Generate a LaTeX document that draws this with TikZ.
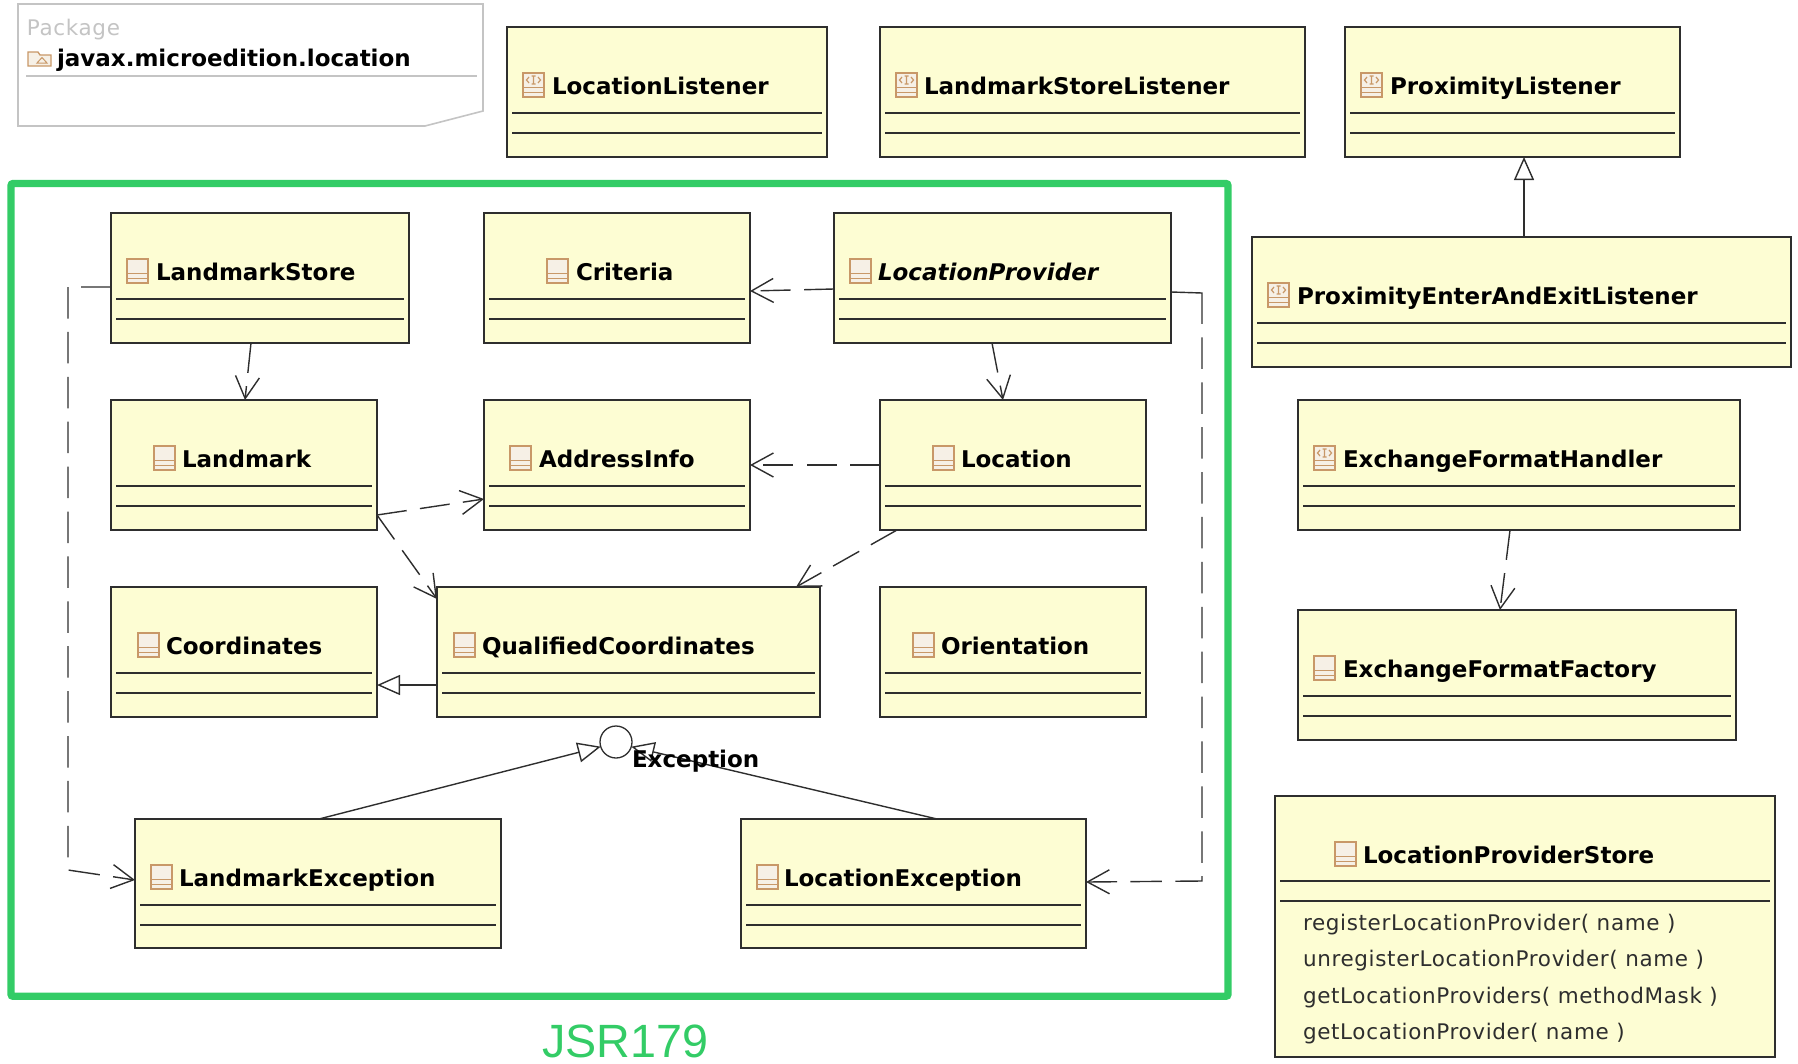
\documentclass[tikz,border=0pt]{standalone}
\usepackage{fontspec}
\setmainfont{DejaVu Sans}
\newfontfamily\arialf{Liberation Sans}
\newfontfamily\mthf[LetterSpace=3]{DejaVu Sans}
\usetikzlibrary{arrows.meta,calc}
\definecolor{boxfill}{HTML}{FDFDD3}
\definecolor{ink}{HTML}{2E2E2E}
\definecolor{jsr}{HTML}{33CC66}
\definecolor{icn}{HTML}{C89868}
\definecolor{icnfill}{HTML}{F6F0E6}
\definecolor{notegrey}{HTML}{C4C4C4}
\tikzset{
  umlnode/.style={draw=ink,fill=boxfill,line width=1.5pt,rectangle,inner sep=0pt,outer sep=0pt},
  sepline/.style={draw=ink,line width=1.6pt},
  lbl/.style={anchor=base west,inner sep=0pt,outer sep=0pt,font=\fontsize{23}{26}\selectfont\bfseries,text=black},
  mth/.style={anchor=base west,inner sep=0pt,outer sep=0pt,font=\mthf\fontsize{21.5}{26}\selectfont,text=ink},
  iconline/.style={draw=icn,line width=1.3pt},
  dep/.style={draw=ink,line width=1.4pt,dash pattern=on 30pt off 13.4pt,-{Straight Barb[length=22pt,width=24pt,line width=1.4pt]}},
  leftdash/.style={dash pattern=on 30pt off 13pt on 31.5pt off 13.4pt on 31.5pt off 13.4pt on 31.5pt off 13.4pt on 31.5pt off 13.4pt on 31.5pt off 13.4pt on 31.5pt off 13.4pt on 31.5pt off 13.4pt on 31.5pt off 13.4pt on 31.5pt off 13.4pt on 31.5pt off 13.4pt on 31.5pt off 13.4pt on 31.5pt off 13.4pt on 31.5pt off 13.4pt on 31.5pt off 13.4pt on 31.5pt off 13.4pt},
  rightdash/.style={dash pattern=on 62pt off 13.4pt on 31.5pt off 13.4pt on 31.5pt off 13.4pt on 31.5pt off 13.4pt on 31.5pt off 13.4pt on 31.5pt off 13.4pt on 31.5pt off 13.4pt on 31.5pt off 13.4pt on 31.5pt off 13.4pt on 31.5pt off 13.4pt on 31.5pt off 13.4pt on 31.5pt off 13.4pt on 31.5pt off 13.4pt on 31.5pt off 13.4pt on 31.5pt off 13.4pt on 31.5pt off 13.4pt},
  gen/.style={draw=ink,line width=1.4pt,-{Triangle[fill=white,length=23pt,width=20pt,line width=1.4pt]}}
}
\newcommand{\classicon}[3]{% x, y(top), kind
  \filldraw[iconline,fill=icnfill] (#1,#2) rectangle ++(21,24);
  \draw[iconline] (#1,#2+14.5) -- ++(21,0) (#1,#2+19.5) -- ++(21,0);
  \if#3i
    \draw[icn,line width=1.2pt] (#1+10.5,#2+3) -- ++(0,8) (#1+8.5,#2+3) -- ++(4,0) (#1+8.5,#2+11) -- ++(4,0)
      (#1+6,#2+4) -- ++(-2.5,3) -- ++(2.5,3) (#1+15,#2+4) -- ++(2.5,3) -- ++(-2.5,3);
  \fi
}
\newcommand{\umlclass}[9]{% id x1 y1 x2 y2 iconx textx kind label
  \pgfmathsetmacro{\bw}{#4-#2}\pgfmathsetmacro{\bh}{#5-#3}
  \pgfmathsetmacro{\bx}{(#2+#4)/2}\pgfmathsetmacro{\by}{(#3+#5)/2}
  \node[umlnode,minimum width=\bw pt,minimum height=\bh pt] (#1) at (\bx,\by) {};
  \draw[sepline] ([xshift=5pt,yshift=-86pt]#1.north west) -- ([xshift=-5pt,yshift=-86pt]#1.north east);
  \draw[sepline] ([xshift=5pt,yshift=-106pt]#1.north west) -- ([xshift=-5pt,yshift=-106pt]#1.north east);
  \classicon{#6}{#3+46}{#8}
  \node[lbl] (#1-t) at (#7,#3+67.7) {#9};
}
\begin{document}
\begin{tikzpicture}[x=1pt,y=-1pt]
\useasboundingbox (0,0) rectangle (1798,1063);
% package note
\draw[notegrey,line width=1.6pt,fill=white] (18,4) -- (483,4) -- (483,111) -- (425,126) -- (18,126) -- cycle;
\draw[notegrey,line width=1.5pt] (26,76) -- (477,76);
\node[mth,text=notegrey] (pk) at (27,35) {Package};
\node[lbl] (pkn) at (57,66) {javax.microedition.location};
\filldraw[iconline,fill=icnfill] (28,52) -- (28,66) -- (51,66) -- (51,55) -- (40,55) -- (38,52) -- cycle;
\draw[iconline,line width=1pt] (37,63) -- (42,57.5) -- (47,63) -- cycle;
% JSR frame
\draw[jsr,line width=7.2pt,rounded corners=2pt] (11,183.5) rectangle (1228,996.3);
\node[anchor=base,inner sep=0pt,text=jsr,font=\arialf\fontsize{46.7}{48}\selectfont] (jsrlabel) at (625.5,1057) {JSR179};
% classes
\umlclass{ll}{507}{27}{827}{157}{523}{552}{i}{LocationListener}
\umlclass{lsl}{880}{27}{1305}{157}{896}{924}{i}{LandmarkStoreListener}
\umlclass{pl}{1345}{27}{1680}{157}{1361}{1390}{i}{ProximityListener}
\umlclass{peel}{1252}{237}{1791}{367}{1268}{1297}{i}{ProximityEnterAndExitListener}
\umlclass{efh}{1298}{400}{1740}{530}{1314}{1343}{i}{ExchangeFormatHandler}
\umlclass{eff}{1298}{610}{1736}{740}{1314}{1343}{c}{ExchangeFormatFactory}
\umlclass{ls}{111}{213}{409}{343}{127}{156}{c}{LandmarkStore}
\umlclass{cr}{484}{213}{750}{343}{547}{576}{c}{Criteria}
\umlclass{lp}{834}{213}{1171}{343}{850}{878}{c}{\itshape LocationProvider}
\umlclass{lm}{111}{400}{377}{530}{154}{182}{c}{Landmark}
\umlclass{ai}{484}{400}{750}{530}{510}{539}{c}{AddressInfo}
\umlclass{loc}{880}{400}{1146}{530}{933}{961}{c}{Location}
\umlclass{co}{111}{587}{377}{717}{138}{166}{c}{Coordinates}
\umlclass{qc}{437}{587}{820}{717}{454}{482}{c}{QualifiedCoordinates}
\umlclass{or}{880}{587}{1146}{717}{913}{941}{c}{Orientation}
\umlclass{le}{135}{819}{501}{948}{151}{179}{c}{LandmarkException}
\umlclass{loe}{741}{819}{1086}{948}{757}{784}{c}{LocationException}
% store class
\node[umlnode,minimum width=500pt,minimum height=261pt] (lps) at (1525,926.5) {};
\draw[sepline] ([xshift=5pt,yshift=-85pt]lps.north west) -- ([xshift=-5pt,yshift=-85pt]lps.north east);
\draw[sepline] ([xshift=5pt,yshift=-105pt]lps.north west) -- ([xshift=-5pt,yshift=-105pt]lps.north east);
\classicon{1335}{842}{c}
\node[lbl] (lps-t) at (1363,863.7) {LocationProviderStore};
\node[mth] (m1) at (1303,930) {registerLocationProvider( name )};
\node[mth] (m2) at (1303,966) {unregisterLocationProvider( name )};
\node[mth] (m3) at (1303,1003) {getLocationProviders( methodMask )};
\node[mth] (m4) at (1303,1039) {getLocationProvider( name )};
% interface circle
\node[circle,draw=ink,line width=1.3pt,fill=white,minimum size=32pt,inner sep=0pt,outer sep=0pt] (exc) at (616,742) {};
% connectors
\coordinate (b1) at (68,287);
\coordinate (b2) at (68,870);
\coordinate (b3) at (1202,293);
\coordinate (b4) at (1202,881);
\draw[dep,leftdash] ([yshift=-74pt]ls.north west) -- (b1) -- (b2) -- ([yshift=-61pt]le.north west);
\draw[dep] ([xshift=140pt]ls.south west) -- ([xshift=134pt]lm.north west);
\draw[dep] ([yshift=-76pt]lp.north west) -- ([yshift=-78pt]cr.north east);
\draw[dep] ([xshift=158pt]lp.south west) -- ([xshift=123pt]loc.north west);
\draw[dep,rightdash] ([yshift=-79pt]lp.north east) -- (b3) -- (b4) -- ([yshift=-63pt]loe.north east);
\draw[dep] ([yshift=-65pt]loc.north west) -- ([yshift=-65pt]ai.north east);
\draw[dep] ([xshift=17pt]loc.south west) -- ([xshift=359pt]qc.north west);
\draw[dep] ([yshift=15pt]lm.south east) -- ([yshift=-99pt]ai.north west);
\draw[dep] ([yshift=15pt]lm.south east) -- ([yshift=-12pt]qc.north west);
\draw[gen] ([yshift=-98pt]qc.north west) -- ([yshift=-98pt]co.north east);
\draw[gen] ([xshift=272pt]peel.north west) -- ([xshift=179pt]pl.south west);
\draw[dep] ([xshift=212pt]efh.south west) -- ([xshift=202pt]eff.north west);
\draw[gen] ([xshift=184pt]le.north west) -- (exc.197);
\draw[gen] ([xshift=196pt]loe.north west) -- (exc.-17);
\node[lbl] (exct) at (632,767) {Exception};
\end{tikzpicture}
\end{document}
